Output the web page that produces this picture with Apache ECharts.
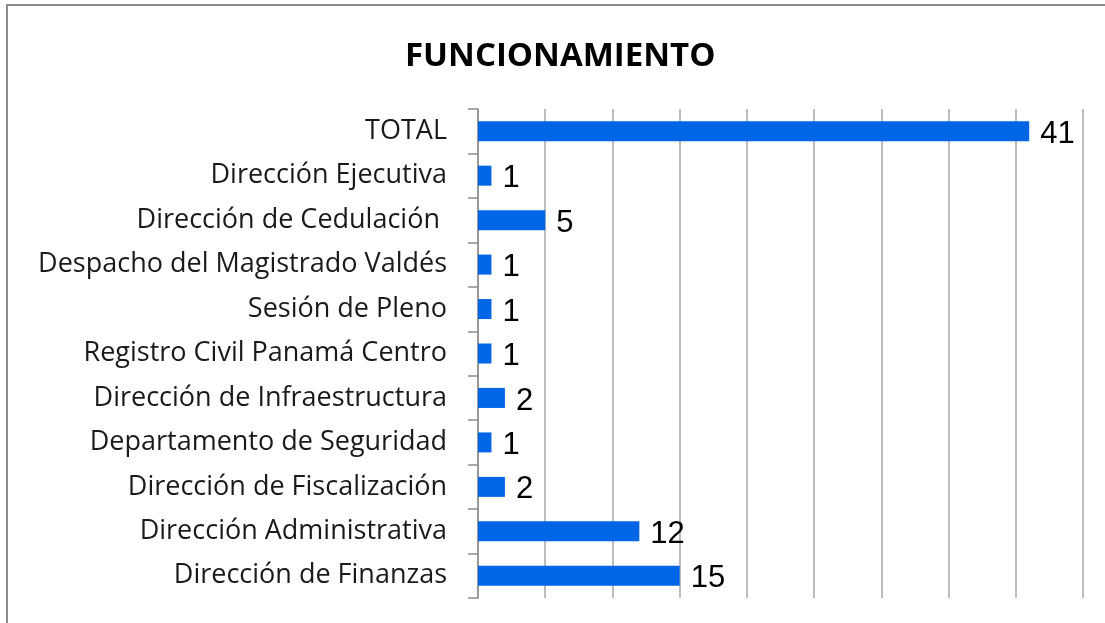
<!DOCTYPE html>
<html>
<head>
<meta charset="utf-8">
<script src="https://cdn.jsdelivr.net/npm/echarts@6/dist/echarts.min.js"></script>
<style>
html,body{margin:0;padding:0;background:#fff;}
#chart{position:absolute;left:0;top:0;width:1105px;height:623px;}
#frame{position:absolute;left:6px;top:4px;width:1110px;height:640px;border-left:2px solid #8c8c8c;border-top:2px solid #8c8c8c;pointer-events:none;}
</style>
</head>
<body>
<div id="chart"></div>
<div id="frame"></div>
<script>
const categories = [
  'TOTAL',
  'Dirección Ejecutiva',
  'Dirección de Cedulación ',
  'Despacho del Magistrado Valdés',
  'Sesión de Pleno',
  'Registro Civil Panamá Centro',
  'Dirección de Infraestructura',
  'Departamento de Seguridad',
  'Dirección de Fiscalización',
  'Dirección Administrativa',
  'Dirección de Finanzas'
];
const values = [41, 1, 5, 1, 1, 1, 2, 1, 2, 12, 15];
const xTicks = { min: 0, max: 45, interval: 5 };

const chart = echarts.init(document.getElementById('chart'));
chart.setOption({
  animation: false,
  title: {
    text: 'FUNCIONAMIENTO',
    left: 400,
    top: 35,
    textStyle: { fontFamily: 'Open Sans', fontWeight: 'bold', fontSize: 33, color: '#000' }
  },
  grid: { left: 478, right: 22, top: 109, bottom: 25, containLabel: false },
  xAxis: {
    type: 'value',
    min: xTicks.min, max: xTicks.max, interval: xTicks.interval,
    axisLine: { show: false },
    axisTick: { show: false },
    axisLabel: { show: false },
    splitLine: { show: true, lineStyle: { color: '#a6a6a6', width: 1.5 } }
  },
  yAxis: {
    type: 'category',
    data: categories,
    inverse: true,
    axisLine: { show: true, lineStyle: { color: '#8c8c8c', width: 1.5 } },
    axisTick: { show: true, length: 10, lineStyle: { color: '#8c8c8c', width: 1.5 } },
    axisLabel: { margin: 31, fontFamily: 'Open Sans', fontSize: 27, color: '#1a1a1a' }
  },
  series: [{
    type: 'bar',
    data: values,
    barWidth: 20,
    itemStyle: { color: '#0066e6' },
    label: {
      show: true,
      position: 'right',
      distance: 11,
      offset: [0, 3],
      fontFamily: 'Liberation Sans',
      fontSize: 31,
      color: '#000'
    }
  }]
});
</script>
</body>
</html>
